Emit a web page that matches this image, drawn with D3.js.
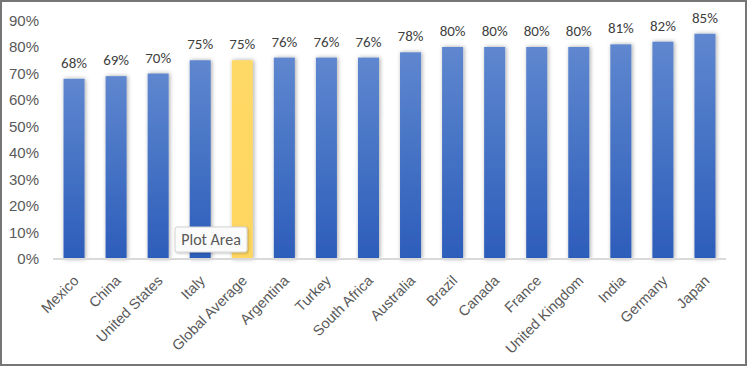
<!DOCTYPE html>
<html><head><meta charset="utf-8">
<script src="https://cdn.jsdelivr.net/npm/d3@7"></script>
<style>
html,body{margin:0;padding:0;background:#fff;}
svg{display:block;font-family:Carlito,Calibri,"Liberation Sans",Arial,sans-serif;}
</style></head>
<body><svg id="chart" width="751" height="371"></svg>
<script>
const categories = ["Mexico","China","United States","Italy","Global Average","Argentina","Turkey","South Africa","Australia","Brazil","Canada","France","United Kingdom","India","Germany","Japan"];
const values = [0.68,0.69,0.70,0.75,0.75,0.76,0.76,0.76,0.78,0.80,0.80,0.80,0.80,0.81,0.82,0.85];
const highlight = ["Global Average"];
const yTicks = [0,0.1,0.2,0.3,0.4,0.5,0.6,0.7,0.8,0.9];

const svg = d3.select("#chart");
const margin = {left:53, right:726, top:20.5, bottom:259};

// frame
svg.append("rect").attr("x",1).attr("y",1).attr("width",745).attr("height",364)
  .attr("fill","#fff").attr("stroke","#767676").attr("stroke-width",2);

const defs = svg.append("defs");
const gb = defs.append("linearGradient").attr("id","gBlue").attr("x1",0).attr("y1",0).attr("x2",0).attr("y2",1);
gb.append("stop").attr("offset","0%").attr("stop-color","#5f87cf");
gb.append("stop").attr("offset","100%").attr("stop-color","#2c5dba");
const gy = defs.append("linearGradient").attr("id","gYel").attr("x1",0).attr("y1",0).attr("x2",0).attr("y2",1);
gy.append("stop").attr("offset","0%").attr("stop-color","#ffd966");
gy.append("stop").attr("offset","100%").attr("stop-color","#ffd660");
const f = defs.append("filter").attr("id","sh").attr("x","-50%").attr("y","-10%").attr("width","200%").attr("height","120%");
f.append("feDropShadow").attr("dx",1).attr("dy",0).attr("stdDeviation",2).attr("flood-color","#000").attr("flood-opacity",0.35);
const f2 = defs.append("filter").attr("id","sh2").attr("x","-20%").attr("y","-30%").attr("width","140%").attr("height","160%");
f2.append("feDropShadow").attr("dx",1).attr("dy",1).attr("stdDeviation",1.2).attr("flood-color","#000").attr("flood-opacity",0.25);

const x = d3.scaleBand().domain(categories).range([margin.left, margin.right]).paddingInner(0.5).paddingOuter(0.25);
const y = d3.scaleLinear().domain([0,0.9]).range([margin.bottom, margin.top]);

// y axis
const yAxis = svg.append("g").attr("transform",`translate(${margin.left-14},0)`)
  .call(d3.axisLeft(y).tickValues(yTicks).tickFormat(d3.format(".0%")).tickSize(0).tickPadding(0));
yAxis.select(".domain").remove();
yAxis.selectAll("text").attr("fill","#595959").attr("font-size","15px");

// bars
svg.append("g").selectAll("rect").data(categories).join("rect")
  .attr("x",d=>x(d)).attr("width",x.bandwidth())
  .attr("y",(d,i)=>y(values[i])).attr("height",(d,i)=>y(0)-y(values[i]))
  .attr("fill",d=>highlight.includes(d)?"url(#gYel)":"url(#gBlue)")
  .attr("filter","url(#sh)");

// x axis
const xAxis = svg.append("g").attr("transform",`translate(0,${margin.bottom})`)
  .call(d3.axisBottom(x).tickSize(0).tickPadding(0));
xAxis.select(".domain").attr("stroke","#d9d9d9").attr("stroke-width",2)
  .attr("d",`M${margin.left},0H${margin.right}`);
xAxis.selectAll(".tick text").attr("fill","#595959").attr("font-size","14.5px")
  .attr("text-anchor","end").attr("dy","0.35em")
  .attr("transform","translate(2,19) rotate(-45)");

// data labels
svg.append("g").selectAll("text").data(categories).join("text")
  .attr("x",d=>x(d)+x.bandwidth()/2).attr("y",(d,i)=>y(values[i])-11)
  .attr("text-anchor","middle").attr("fill","#404040").attr("font-size","15px")
  .text((d,i)=>d3.format(".0%")(values[i]));

// tooltip
const tip = svg.append("g").attr("transform","translate(175,227)");
tip.append("rect").attr("width",72).attr("height",25).attr("rx",2)
  .attr("fill","#fbfbfb").attr("stroke","#d4d4d4").attr("filter","url(#sh2)");
tip.append("text").attr("x",36).attr("y",18).attr("text-anchor","middle")
  .attr("fill","#595959").attr("font-size","16px").text("Plot Area");
</script></body></html>
